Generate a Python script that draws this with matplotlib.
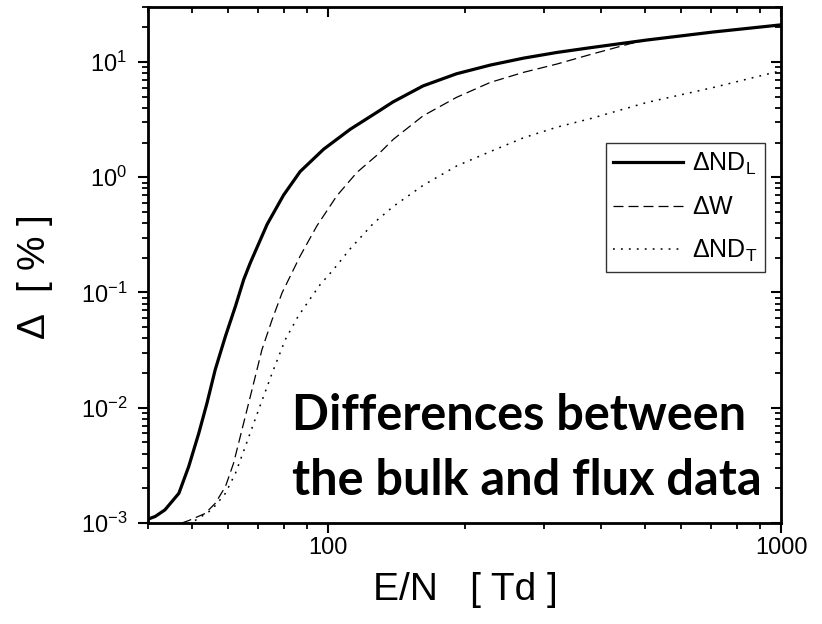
import matplotlib
matplotlib.use("Agg")
import matplotlib.pyplot as plt
from matplotlib.ticker import FixedLocator, FuncFormatter, NullFormatter, LogLocator

plt.rcParams['font.family'] = ['Liberation Sans Narrow', 'Liberation Sans', 'DejaVu Sans']
plt.rcParams['mathtext.default'] = 'regular'

# E/N [Td] and Delta [%]
x_ndl = [40, 41.5, 43.6, 46.8, 49.2, 51.8, 54.0, 56.3, 59.3, 62.4, 65.1, 67.3, 73.3, 79.7, 86.7, 97.7,
         111.9, 128, 139, 162, 192, 228, 270, 320, 379, 505, 708, 1000]
y_ndl = [1.08e-3, 1.14e-3, 1.30e-3, 1.81e-3, 3.09e-3, 6.03e-3, 0.0110, 0.0214, 0.0417, 0.076, 0.130, 0.181,
         0.39, 0.70, 1.12, 1.75, 2.61, 3.65, 4.5, 6.2, 7.9, 9.4, 10.8, 12.1, 13.3, 15.5, 18.2, 21.0]

x_w = [47.5, 49.2, 53.5, 56.3, 59.3, 61.8, 64.5, 67.9, 71.4, 75.2, 79.1, 86.7, 94.4, 104.5, 115.7,
       130.2, 139.4, 162, 192, 228, 270, 320, 379, 464, 505, 708, 1000]
y_w = [1.0e-3, 1.05e-3, 1.21e-3, 1.48e-3, 2.07e-3, 3.30e-3, 6.44e-3, 0.0144, 0.0319, 0.0582, 0.0994,
       0.207, 0.378, 0.69, 1.10, 1.64, 2.14, 3.41, 4.93, 6.65, 8.13, 9.6, 11.6, 14.4, 15.5, 18.2, 21.0]

x_ndt = [50.8, 55.3, 59.3, 62.4, 65.6, 70.2, 75.2, 80.4, 85.8, 92.1, 96.0, 102.7, 111.9, 126,
         139.4, 162, 192, 228, 270, 320, 379, 505, 708, 1000]
y_ndt = [1.05e-3, 1.30e-3, 1.81e-3, 2.70e-3, 4.6e-3, 9.6e-3, 0.020, 0.039, 0.062, 0.093, 0.117,
         0.158, 0.24, 0.40, 0.56, 0.85, 1.25, 1.67, 2.2, 2.72, 3.22, 4.45, 6.0, 8.4]

labels = ['$\\Delta$ND$_{L}$', '$\\Delta$W', '$\\Delta$ND$_{T}$']

fig = plt.figure(figsize=(8.22, 6.24), dpi=100)
ax = fig.add_axes([148/822, 1-523/624, (781-148)/822, (523-7)/624])

ax.plot(x_ndl, y_ndl, color='black', lw=2.3, label=labels[0])
ax.plot(x_w, y_w, color='black', lw=0.9, dashes=(8, 4), label=labels[1])
ax.plot(x_ndt, y_ndt, color='black', lw=1.1, dashes=(1.2, 4.0), label=labels[2])

ax.set_xscale('log')
ax.set_yscale('log')
ax.set_xlim(40, 1000)
ax.set_ylim(1e-3, 30)

ax.xaxis.set_major_locator(FixedLocator([100, 1000]))
ax.xaxis.set_major_formatter(FuncFormatter(lambda v, p: '%d' % v))
ax.xaxis.set_minor_locator(LogLocator(base=10, subs=range(2, 10)))
ax.xaxis.set_minor_formatter(NullFormatter())
ax.yaxis.set_minor_locator(LogLocator(base=10, subs=range(2, 10), numticks=20))
ax.yaxis.set_minor_formatter(NullFormatter())

ax.tick_params(which='major', direction='out', length=7, width=1.5, labelsize=17, pad=3)
ax.tick_params(which='minor', direction='out', length=4, width=1.3)
ax.tick_params(axis='y', which='major', pad=8)
for s in ax.spines.values():
    s.set_linewidth(2)

# inward ticks on top and right
ax_top = ax.twiny()
ax_top.set_xscale('log')
ax_top.set_xlim(ax.get_xlim())
ax_top.xaxis.set_major_locator(FixedLocator([100, 1000]))
ax_top.xaxis.set_minor_locator(LogLocator(base=10, subs=range(2, 10)))
ax_top.tick_params(which='major', direction='in', length=7, width=1.5, labeltop=False)
ax_top.tick_params(which='minor', direction='in', length=4, width=1.3)

ax_right = ax.twinx()
ax_right.set_yscale('log')
ax_right.set_ylim(ax.get_ylim())
ax_right.yaxis.set_minor_locator(LogLocator(base=10, subs=range(2, 10), numticks=20))
ax_right.tick_params(which='major', direction='in', length=7, width=1.5, labelright=False)
ax_right.tick_params(which='minor', direction='in', length=4, width=1.3)
ax_right.yaxis.set_minor_formatter(NullFormatter())

h, l = ax.get_legend_handles_labels()
leg = ax_right.legend(h, l, loc='upper right', bbox_to_anchor=((765-148)/633, 1-(143-7)/516),
                      fontsize=18, frameon=True, fancybox=False, edgecolor='black',
                      handlelength=2.8, handletextpad=0.35, borderpad=0.3, labelspacing=0.75,
                      borderaxespad=0)
leg.get_frame().set_linewidth(1.0)

fig.text(465/822, 1-590/624, 'E/N   [ Td ]', fontsize=28, ha='center', va='center')
fig.text(35/822, 1-278/624, '$\\Delta$  [ % ]', fontsize=28, ha='center', va='center', rotation=90)

big = dict(fontsize=35, fontweight='bold', family=['Lato', 'DejaVu Sans'], ha='left', va='baseline')
fig.text(292/822, 1-430/624, 'Differences between', **big)
fig.text(292/822, 1-495/624, 'the bulk and flux data', **big)

fig.savefig('out.png', dpi=100)
